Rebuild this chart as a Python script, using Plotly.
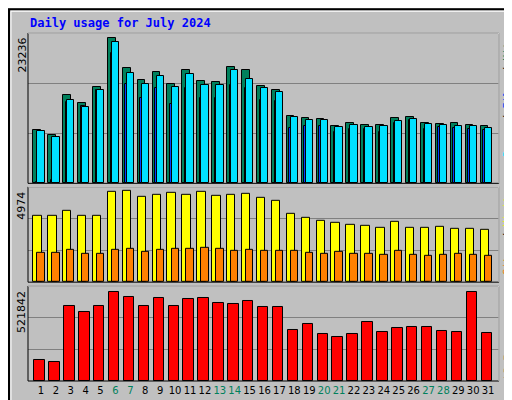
import plotly.graph_objects as go

days = list(range(1, 32))
weekend = [6, 7, 13, 14, 20, 21, 27, 28]
hits = [8569,7780,14089,12827,15350,23236,18347,16454,17716,15824,18032,16297,16139,18505,18032,15508,14877,10777,10461,10304,9200,9673,9357,9357,10461,10619,9673,9515,9673,9357,9200]
files = [158,526,12985,12354,14877,20713,15824,13616,15193,12669,15193,13616,13616,15666,15193,13300,13143,8884,9200,9200,8254,8727,8727,8254,9673,10146,8727,9042,8884,8727,8569]
pages = [8411,7465,13300,12196,14877,22605,17558,15824,17085,15350,17401,15666,15666,18032,16612,15193,14562,10619,10146,10146,9042,9357,9042,9200,9988,10304,9515,9357,9200,9200,8884]
visits = [3574,3574,3897,3574,3574,4921,4974,4651,4759,4867,4759,4921,4705,4759,4813,4597,4436,3735,3466,3304,3197,3089,3035,2927,3250,2927,2927,2981,2873,2873,2819]
sites = [1580,1580,1742,1527,1527,1742,1796,1634,1742,1796,1796,1850,1796,1688,1742,1688,1688,1688,1580,1527,1634,1527,1527,1473,1688,1473,1419,1473,1527,1473,1419]
kbytes = [121888,110461,436130,401850,436130,521842,487552,436130,481839,436130,476125,481839,453271,447558,464698,430417,430417,299007,333288,276153,259012,276153,344715,287580,310434,316148,316148,293293,287580,521842,281866]

line = dict(color="black", width=1)
fig = go.Figure()
def bar(y, color, off, w, ax):
    fig.add_trace(go.Bar(x=days, y=y, marker=dict(color=color, line=line),
                         offset=off, width=w, xaxis="x", yaxis=ax, showlegend=False))
bar(hits, "#00805C", -0.38, 0.52, "y")
bar(files, "#0040FF", -0.2, 0.3, "y")
bar(pages, "#00E0FF", -0.11, 0.49, "y")
bar(visits, "#FFFF00", -0.38, 0.56, "y2")
bar(sites, "#FF8000", -0.11, 0.49, "y2")
bar(kbytes, "#FF0000", -0.31, 0.7, "y3")

R1 = max(hits) * 152 / 147.3
R2 = max(visits) * 96 / 92.3
R3 = max(kbytes) * 97 / 91.3
def yax(dom, R):
    return dict(domain=dom, range=[0, R], tickvals=[R/3, 2*R/3], showticklabels=False,
                gridcolor="#808080", gridwidth=1, zeroline=False, showline=False, fixedrange=True)

ticktext = [f'<span style="color:{"#00805C" if d in weekend else "black"}">{d}</span>' for d in days]
fig.update_layout(
    width=512, height=400, margin=dict(l=20, r=21, t=25, b=23),
    paper_bgcolor="#C0C0C0", plot_bgcolor="#C0C0C0", barmode="overlay", bargap=0,
    font=dict(family="DejaVu Sans", size=10, color="black"),
    xaxis=dict(range=[0.263, 31.86], tickvals=[d + 0.13 for d in days], ticktext=ticktext,
               showgrid=False, zeroline=False, ticks="", anchor="y3", tickangle=0,
               tickfont=dict(size=10), ticklabelstandoff=2),
    yaxis=yax([0.568, 1.0], R1), yaxis2=yax([0.284, 0.558], R2), yaxis3=yax([0.0, 0.273], R3),
)

for y0, y1 in [(0.568, 1.0), (0.284, 0.558), (0.0, 0.273)]:
    fig.add_shape(type="rect", xref="paper", yref="paper", x0=0, x1=1, y0=y0, y1=y1,
                  line=dict(color="black", width=1), layer="above")
    fig.add_shape(type="line", xref="paper", yref="paper", x0=0, x1=1, y0=y1, y1=y1,
                  line=dict(color="white", width=1), layer="above")
    fig.add_shape(type="line", xref="paper", yref="paper", x0=1, x1=1, y0=y0, y1=y1,
                  line=dict(color="white", width=1), layer="above")
fig.add_shape(type="rect", xref="paper", yref="paper", x0=-19/471, x1=1+20/471,
              y0=-22/352, y1=1+24/352, line=dict(color="black", width=2))
fig.add_shape(type="rect", xref="paper", yref="paper", x0=-17/471, x1=1+18/471,
              y0=-20/352, y1=1+22/352, line=dict(color="white", width=1))

ann = []
ann.append(dict(text="<b>Daily usage for July 2024</b>", x=0, y=1 + 10/352, xanchor="left",
                yanchor="middle", font=dict(family="DejaVu Sans Mono", size=12, color="#0000FF")))
for txt, ytop in [("23236", 1 - 3/352), ("4974", 0.558 - 3/352), ("521842", 0.273 - 3/352)]:
    ann.append(dict(text=txt, x=-6/471, y=ytop, textangle=-90, xanchor="center", yanchor="top",
                    font=dict(size=11, color="black")))
ann.append(dict(text='<span style="color:#00E0FF">Pages</span> / <span style="color:#0040FF">Files</span> / <span style="color:#00805C">Hits</span>',
                x=1 + 9/471, y=1 - 2/352, textangle=-90, xanchor="center", yanchor="top",
                font=dict(family="DejaVu Sans Mono", size=10, color="black")))
ann.append(dict(text='<span style="color:#FF8000">Sites</span> / <span style="color:#FFFF00">Visits</span>',
                x=1 + 9/471, y=0.558 - 2/352, textangle=-90, xanchor="center", yanchor="top",
                font=dict(family="DejaVu Sans Mono", size=10, color="black")))
ann.append(dict(text="kB F", x=1 + 9/471, y=0, textangle=-90, xanchor="center", yanchor="bottom",
                font=dict(family="DejaVu Sans Mono", size=10, color="#FF0000")))
for a in ann:
    a.update(xref="paper", yref="paper", showarrow=False)
fig.update_layout(annotations=ann)
fig.write_html("out.html")
